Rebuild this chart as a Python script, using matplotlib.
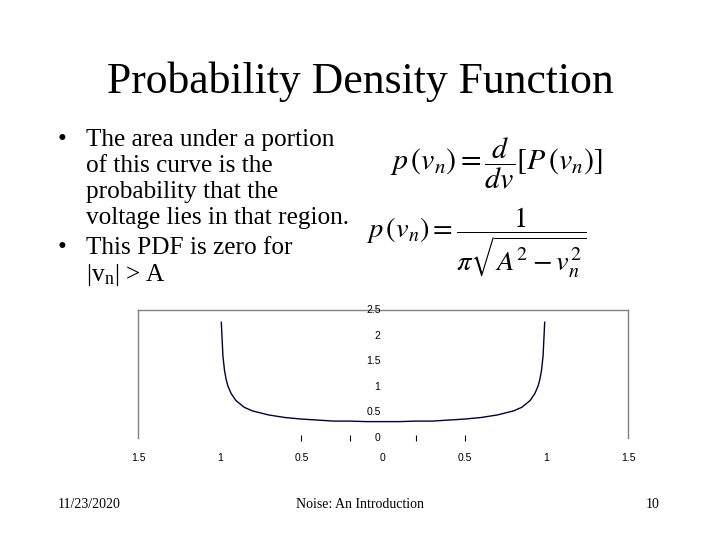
import numpy as np
import matplotlib.pyplot as plt

# values (v_n in units of A, p(v_n))
v = [-0.99, -0.98, -0.97, -0.96, -0.95, -0.93, -0.9, -0.85, -0.8, -0.7, -0.6, -0.5,
     -0.4, -0.3, -0.2, -0.1, 0.0, 0.1, 0.2, 0.3, 0.4, 0.5, 0.6, 0.7, 0.8, 0.85,
     0.9, 0.93, 0.95, 0.96, 0.97, 0.98, 0.99]
p = [2.26, 1.60, 1.31, 1.14, 1.02, 0.87, 0.73, 0.60, 0.53, 0.45, 0.40, 0.37,
     0.35, 0.33, 0.33, 0.32, 0.32, 0.32, 0.33, 0.33, 0.35, 0.37, 0.40, 0.45, 0.53, 0.60,
     0.73, 0.87, 1.02, 1.14, 1.31, 1.60, 2.26]

x_ticks = [-1.5, -1, -0.5, 0, 0.5, 1, 1.5]
x_tick_labels = ["1.5", "1", "0.5", "0", "0.5", "1", "1.5"]
x_marks = [-0.5, -0.2, 0.2, 0.5]
y_ticks = [0, 0.5, 1, 1.5, 2, 2.5]
y_tick_labels = ["0", "0.5", "1", "1.5", "2", "2.5"]

title = "Probability Density Function"
bullet_lines = [
    ("\u2022", "The area under a portion"),
    ("", "of this curve is the"),
    ("", "probability that the"),
    ("", "voltage lies in that region."),
    ("\u2022", "This PDF is zero for"),
    ("", r"|v$_\mathregular{n}$| > A"),
]
footer_left = "11/23/2020"
footer_mid = "Noise: An Introduction"
footer_right = "10"

plt.rcParams["mathtext.fontset"] = "stix"
serif = "Liberation Serif"
W, H = 720, 540

fig = plt.figure(figsize=(7.2, 5.4), dpi=100)


def fx(px):
    return px / W


def fy(py):
    return 1 - py / H


fig.text(0.5, fy(82), title, ha="center", va="center", family=serif, fontsize=31.5)

line_y = [140, 166, 192, 218, 248, 275]
for (b, txt), yy in zip(bullet_lines, line_y):
    if b:
        fig.text(fx(58), fy(yy), b, ha="left", va="center", family=serif, fontsize=18)
    fig.text(fx(86), fy(yy), txt, ha="left", va="center", family=serif, fontsize=18.2)

fig.text(fx(390), fy(163), r"$p\,(v_n) = \dfrac{d}{dv}\left[P\,(v_n)\right]$",
         ha="left", va="center", fontsize=21.5)
fig.text(fx(366), fy(243), r"$p\,(v_n) = \dfrac{1}{\pi\sqrt{A^2 - v_n^2}}$",
         ha="left", va="center", fontsize=20.5)

fig.text(fx(58), fy(504), footer_left, ha="left", va="center", family=serif, fontsize=10)
fig.text(0.5, fy(504), footer_mid, ha="center", va="center", family=serif, fontsize=10)
fig.text(fx(660), fy(504), footer_right, ha="right", va="center", family=serif, fontsize=10)

# chart box
ax = fig.add_axes([fx(138), fy(438), fx(628) - fx(138), fy(310) - fy(438)])
ax.plot(v, p, color="#000033", lw=1.0)
ax.set_xlim(-1.5, 1.5)
ax.set_ylim(0, 2.5)
ax.spines["bottom"].set_visible(False)
for s in ["top", "left", "right"]:
    ax.spines[s].set_color("#808080")
    ax.spines[s].set_linewidth(1.0)
ax.set_xticks(x_ticks)
ax.set_xticklabels(x_tick_labels, family="Liberation Sans", fontsize=7.5)
ax.tick_params(axis="x", length=0, pad=11)
ax.set_yticks([])
for yv, lab in zip(y_ticks, y_tick_labels):
    ax.text(-0.015, yv, lab, ha="right", va="center", family="Liberation Sans", fontsize=7.5,
            clip_on=False)
ax.plot(x_marks, [0] * len(x_marks), ls="none", marker="|", ms=5, color="black",
        mew=0.8, clip_on=False)
ax.patch.set_alpha(0)

fig.savefig("out.png", dpi=100)
